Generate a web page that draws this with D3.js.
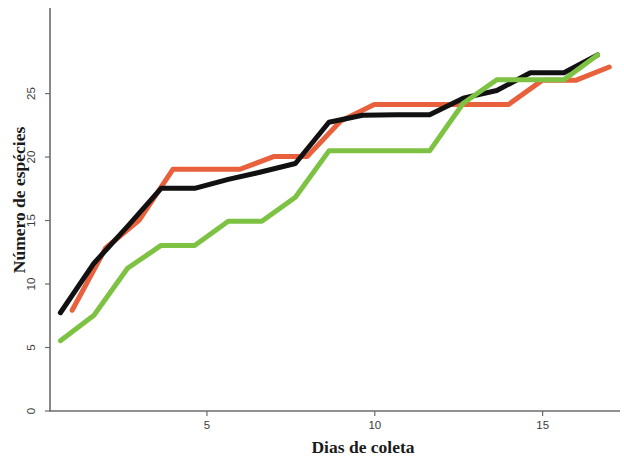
<!DOCTYPE html>
<html>
<head>
    <meta charset="utf-8" />
    <title>Número de espécies por dias de coleta</title>
    <style>
        body { margin: 0; background: #fff; }
    </style>
</head>
<body>
<script src="https://d3js.org/d3.v7.min.js"></script>
<script>
    // days for the red series, and the (shifted) days for black and green
    var diasRed = [1, 2, 3, 4, 5, 6, 7, 8, 9, 10, 11, 12, 13, 14, 15, 16, 17];
    var diasShift = [0.65, 1.65, 2.65, 3.65, 4.65, 5.65, 6.65, 7.65, 8.65, 9.65, 10.65, 11.65, 12.65, 13.65, 14.65, 15.65, 16.65];

    var redValues = [7.9, 12.8, 15.0, 19.0, 19.0, 19.0, 20.0, 20.0, 22.8, 24.1, 24.1, 24.1, 24.1, 24.1, 26.0, 26.0, 27.05];
    var blackValues = [7.7, 11.6, 14.5, 17.5, 17.5, 18.2, 18.8, 19.45, 22.7, 23.25, 23.3, 23.3, 24.6, 25.2, 26.6, 26.6, 28.0];
    var greenValues = [5.5, 7.5, 11.2, 13.0, 13.0, 14.9, 14.9, 16.8, 20.45, 20.45, 20.45, 20.45, 24.2, 26.05, 26.05, 26.05, 28.0];

    var xTicks = [5, 10, 15];
    var yTicks = [0, 5, 10, 15, 20, 25];

    var width = 624;
    var height = 457;

    var svg = d3.select("body").append("svg")
                .attr("width", width)
                .attr("height", height);

    var xScaler = d3.scaleLinear()
                    .domain([0.34, 17.32])
                    .range([50, 620]);

    var yScaler = d3.scaleLinear()
                    .domain([0, 31.7])
                    .range([410.5, 8]);

    var axisColor = "#6b6b6b";

    // frame: left and bottom lines only
    svg.append("line")
       .attr("x1", xScaler.range()[0]).attr("x2", xScaler.range()[0])
       .attr("y1", yScaler.range()[1]).attr("y2", yScaler.range()[0] + 0.5)
       .style("stroke", axisColor).style("stroke-width", 1.6);

    svg.append("line")
       .attr("x1", xScaler.range()[0] - 0.8).attr("x2", xScaler.range()[1])
       .attr("y1", yScaler.range()[0] + 0.5).attr("y2", yScaler.range()[0] + 0.5)
       .style("stroke", axisColor).style("stroke-width", 1.6);

    var yAxis = d3.axisLeft(yScaler)
                  .tickValues(yTicks)
                  .tickSize(5)
                  .tickPadding(13)
                  .tickSizeOuter(0);

    var yg = svg.append("g")
                .attr("transform", "translate(" + xScaler.range()[0] + ",0)")
                .call(yAxis);
    yg.select(".domain").remove();
    yg.selectAll(".tick line").style("stroke", axisColor).style("stroke-width", 1.2);
    yg.selectAll(".tick text")
      .attr("transform", "rotate(-90)")
      .attr("x", 0)
      .attr("y", -15)
      .attr("dy", "0")
      .style("text-anchor", "middle")
      .style("font-family", "'Liberation Sans', Arial, sans-serif")
      .style("font-size", "11.5px")
      .style("fill", "#3a3a3a");

    var xAxis = d3.axisBottom(xScaler)
                  .tickValues(xTicks)
                  .tickSize(5)
                  .tickSizeOuter(0);

    var xg = svg.append("g")
                .attr("transform", "translate(0," + (yScaler.range()[0] + 0.5) + ")")
                .call(xAxis);
    xg.select(".domain").remove();
    xg.selectAll(".tick line").style("stroke", axisColor).style("stroke-width", 1.2);
    xg.selectAll(".tick text")
      .attr("y", 10)
      .attr("dy", "0.71em")
      .style("font-family", "'Liberation Sans', Arial, sans-serif")
      .style("font-size", "11.5px")
      .style("fill", "#3a3a3a");

    var series = [
        {x: diasRed, y: redValues, color: "#e8603c"},
        {x: diasShift, y: blackValues, color: "#111111"},
        {x: diasShift, y: greenValues, color: "#7dc242"}
    ];

    var lineGenerator = d3.line()
                          .x(d => xScaler(d[0]))
                          .y(d => yScaler(d[1]));

    series.forEach(function(s){
        var pts = s.x.map((d, i) => [d, s.y[i]]);
        svg.append("path")
           .attr("d", lineGenerator(pts))
           .style("fill", "none")
           .style("stroke", s.color)
           .style("stroke-width", 5)
           .style("stroke-linecap", "round")
           .style("stroke-linejoin", "round");
    });

    svg.append("text")
       .style("text-anchor", "middle")
       .style("font-family", "'Liberation Serif', 'Times New Roman', serif")
       .style("font-weight", "bold")
       .style("font-size", "17.5px")
       .style("fill", "#1a1a1a")
       .attr("x", 363)
       .attr("y", 453)
       .text("Dias de coleta");

    svg.append("text")
       .style("text-anchor", "middle")
       .style("font-family", "'Liberation Serif', 'Times New Roman', serif")
       .style("font-weight", "bold")
       .style("font-size", "17.5px")
       .style("fill", "#1a1a1a")
       .attr("transform", "translate(24.5,200) rotate(-90)")
       .text("Número de espécies");
</script>
</body>
</html>
